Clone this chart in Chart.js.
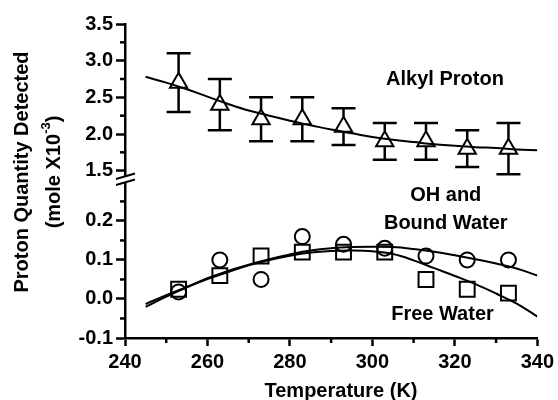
<!DOCTYPE html>
<html>
<head>
<meta charset="utf-8">
<script src="https://cdn.jsdelivr.net/npm/chart.js@4.4.0/dist/chart.umd.min.js"></script>
<style>
  html, body { margin: 0; padding: 0; background: #fff; }
  #wrap { width: 558px; height: 400px; }
</style>
</head>
<body>
<div id="wrap"><canvas id="chart" width="558" height="400"></canvas></div>
<script>
// measured points
const temps = [253, 263, 273, 283, 293, 303, 313, 323, 333];
const alkyl = [2.70, 2.40, 2.20, 2.20, 2.10, 1.90, 1.90, 1.80, 1.80];
const alkylErr = [0.40, 0.35, 0.30, 0.30, 0.25, 0.25, 0.25, 0.25, 0.35];
const ohWater = [0.018, 0.10, 0.05, 0.16, 0.14, 0.13, 0.11, 0.10, 0.10];
const freeWater = [0.025, 0.06, 0.11, 0.12, 0.12, 0.12, 0.05, 0.025, 0.015];

// fitted curves
const fitTemps = [245, 250, 255, 260, 265, 270, 275, 280, 285, 290, 295, 300, 305, 310, 315, 320, 325, 330, 335, 340];
const alkylFit = [2.78, 2.70, 2.61, 2.51, 2.41, 2.32, 2.25, 2.18, 2.12, 2.06, 2.01, 1.96, 1.92, 1.89, 1.86, 1.84, 1.82, 1.81, 1.79, 1.78];
const ohFit = [-0.013, 0.010, 0.031, 0.053, 0.072, 0.088, 0.102, 0.114, 0.124, 0.130, 0.133, 0.134, 0.133, 0.128, 0.121, 0.112, 0.102, 0.091, 0.078, 0.060];
const freeFit = [-0.020, 0.006, 0.030, 0.051, 0.069, 0.086, 0.100, 0.111, 0.119, 0.123, 0.124, 0.122, 0.115, 0.099, 0.079, 0.059, 0.038, 0.014, -0.012, -0.045];

// ticks
const xTicks = [240, 260, 280, 300, 320, 340];
const xMinor = [250, 270, 290, 310, 330];
const upperTicks = [1.5, 2.0, 2.5, 3.0, 3.5];
const upperMinor = [1.75, 2.25, 2.75, 3.25];
const lowerTicks = [-0.1, 0.0, 0.1, 0.2];
const lowerMinor = [-0.05, 0.05, 0.15, 0.25];

const FONT = "'Liberation Sans', Arial, sans-serif";
const TRI_R = 10;

const pts = (xs, ys) => xs.map((x, i) => ({x, y: ys[i]}));

function fitSet(data, axis) {
    return {
        data: pts(fitTemps, data),
        yAxisID: axis,
        showLine: true,
        borderColor: '#000',
        borderWidth: 2,
        pointRadius: 0,
        tension: 0.4,
        fill: false
    };
}

function markSet(data, axis, style, r) {
    return {
        data: pts(temps, data),
        yAxisID: axis,
        pointStyle: style,
        pointRadius: r,
        pointHoverRadius: r,
        pointBorderWidth: 2,
        pointBorderColor: '#000',
        pointBackgroundColor: 'rgba(0,0,0,0)',
        showLine: false
    };
}

const tickFont = {family: FONT, size: 20, weight: 'bold'};

function yScale(min, max, ticks, weight) {
    return {
        type: 'linear',
        position: 'left',
        stack: 'left',
        stackWeight: weight,
        min,
        max,
        afterBuildTicks: s => { s.ticks = ticks.map(v => ({value: v})); },
        afterFit: s => { s.width = 125; },
        ticks: {font: tickFont, color: '#000', padding: 3, autoSkip: false, callback: v => Number(v).toFixed(1)},
        grid: {display: true, drawOnChartArea: false, tickLength: 9, tickWidth: 2.5, tickColor: '#000'},
        border: {display: true, color: '#000', width: 2.5}
    };
}

const decor = {
    id: 'decor',
    afterDraw(chart) {
        const ctx = chart.ctx;
        const {x, yHigh, yLow} = chart.scales;
        ctx.save();
        ctx.strokeStyle = '#000';
        ctx.fillStyle = '#000';
        ctx.lineWidth = 2.5;

        // minor ticks
        const axisY = x.top;
        xMinor.forEach(v => {
            const px = x.getPixelForValue(v);
            ctx.beginPath(); ctx.moveTo(px, axisY); ctx.lineTo(px, axisY + 5); ctx.stroke();
        });
        const axisX = yHigh.right;
        [[yHigh, upperMinor], [yLow, lowerMinor]].forEach(([s, list]) => {
            list.forEach(v => {
                const py = s.getPixelForValue(v);
                ctx.beginPath(); ctx.moveTo(axisX, py); ctx.lineTo(axisX - 5, py); ctx.stroke();
            });
        });

        // error bars
        ctx.lineWidth = 2.5;
        temps.forEach((t, i) => {
            const px = x.getPixelForValue(t);
            const cy = yHigh.getPixelForValue(alkyl[i]);
            const top = yHigh.getPixelForValue(alkyl[i] + alkylErr[i]);
            const bot = yHigh.getPixelForValue(alkyl[i] - alkylErr[i]);
            ctx.beginPath();
            ctx.moveTo(px, top); ctx.lineTo(px, cy - TRI_R);
            ctx.moveTo(px, cy + TRI_R / 2); ctx.lineTo(px, bot);
            ctx.moveTo(px - 12, top); ctx.lineTo(px + 12, top);
            ctx.moveTo(px - 12, bot); ctx.lineTo(px + 12, bot);
            ctx.stroke();
        });

        // axis break
        const b = yHigh.bottom;
        ctx.fillStyle = '#fff';
        ctx.beginPath();
        ctx.moveTo(117, b + 1); ctx.lineTo(134, b - 4); ctx.lineTo(134, b + 2); ctx.lineTo(117, b + 7);
        ctx.closePath(); ctx.fill();
        ctx.lineWidth = 2;
        ctx.beginPath();
        ctx.moveTo(116, b + 1); ctx.lineTo(135, b - 4.5);
        ctx.moveTo(116, b + 7); ctx.lineTo(135, b + 1.5);
        ctx.stroke();

        // series labels
        ctx.fillStyle = '#000';
        ctx.font = `bold 20px ${FONT}`;
        ctx.textAlign = 'center';
        ctx.textBaseline = 'middle';
        ctx.fillText('Alkyl Proton', x.getPixelForValue(317.6), yHigh.getPixelForValue(2.75));
        ctx.fillText('OH and', x.getPixelForValue(317.8), yLow.getPixelForValue(0.264));
        ctx.fillText('Bound Water', x.getPixelForValue(317.8), yLow.getPixelForValue(0.194));
        ctx.fillText('Free Water', x.getPixelForValue(317), yLow.getPixelForValue(-0.039));

        // axis titles
        ctx.fillText('Temperature (K)', 341, 391);

        ctx.save();
        ctx.translate(22, 172);
        ctx.rotate(-Math.PI / 2);
        ctx.fillText('Proton Quantity Detected', 0, 0);
        ctx.restore();

        const main = '(mole X10', sup = '-3', end = ')';
        ctx.font = `bold 20px ${FONT}`;
        const w1 = ctx.measureText(main).width;
        const w3 = ctx.measureText(end).width;
        ctx.font = `bold 13px ${FONT}`;
        const w2 = ctx.measureText(sup).width;
        const start = -(w1 + w2 + w3) / 2;
        ctx.save();
        ctx.translate(54, 172);
        ctx.rotate(-Math.PI / 2);
        ctx.textAlign = 'left';
        ctx.font = `bold 20px ${FONT}`;
        ctx.fillText(main, start, 0);
        ctx.fillText(end, start + w1 + w2, 0);
        ctx.font = `bold 13px ${FONT}`;
        ctx.fillText(sup, start + w1, -8);
        ctx.restore();

        ctx.restore();
    }
};

new Chart(document.getElementById('chart'), {
    type: 'scatter',
    data: {
        datasets: [
            markSet(alkyl, 'yHigh', 'triangle', TRI_R),
            markSet(ohWater, 'yLow', 'circle', 7.5),
            markSet(freeWater, 'yLow', 'rect', 10.5),
            fitSet(alkylFit, 'yHigh'),
            fitSet(ohFit, 'yLow'),
            fitSet(freeFit, 'yLow')
        ]
    },
    options: {
        responsive: false,
        animation: false,
        devicePixelRatio: 1,
        layout: {padding: {top: 24, right: 18, left: 0, bottom: 0}},
        plugins: {legend: {display: false}, tooltip: {enabled: false}},
        scales: {
            x: {
                type: 'linear',
                min: 240,
                max: 340,
                afterBuildTicks: s => { s.ticks = xTicks.map(v => ({value: v})); },
                afterFit: s => { s.height = 62; },
                ticks: {font: tickFont, color: '#000', padding: 4, maxRotation: 0, autoSkip: false, callback: v => String(v)},
                grid: {display: true, drawOnChartArea: false, tickLength: 8, tickWidth: 2.5, tickColor: '#000'},
                border: {display: true, color: '#000', width: 2.5}
            },
            yLow: yScale(-0.1, 0.31, lowerTicks, 160),
            yHigh: yScale(1.4, 3.5, upperTicks, 154)
        }
    },
    plugins: [decor]
});
</script>
</body>
</html>
